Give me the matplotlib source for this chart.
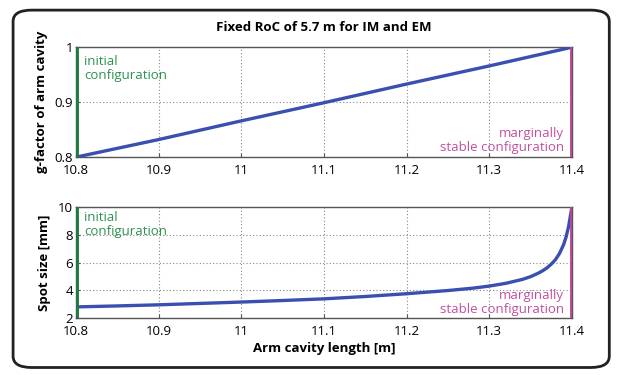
import matplotlib
matplotlib.use("Agg")
import matplotlib.pyplot as plt
from matplotlib.patches import FancyBboxPatch

plt.rcParams['font.family'] = ['Open Sans', 'DejaVu Sans']

# Data
length_g = [10.8, 10.9, 11.0, 11.1, 11.2, 11.3, 11.4]
g_factor = [0.8, 0.832, 0.866, 0.899, 0.933, 0.966, 1.0]

length_w = [10.8, 10.85, 10.9, 10.95, 11.0, 11.05, 11.1, 11.15, 11.2, 11.25,
            11.28, 11.3, 11.32, 11.34, 11.35, 11.36, 11.365, 11.37, 11.375,
            11.38, 11.385, 11.39, 11.393, 11.396, 11.398, 11.4]
spot_size = [2.8, 2.87, 2.95, 3.05, 3.15, 3.26, 3.38, 3.55, 3.75, 3.98,
             4.15, 4.3, 4.5, 4.78, 4.98, 5.25, 5.42, 5.62, 5.88,
             6.2, 6.65, 7.3, 7.85, 8.6, 9.3, 10.0]

xticks = [10.8, 10.9, 11.0, 11.1, 11.2, 11.3, 11.4]
xticklabels = ['10.8', '10.9', '11', '11.1', '11.2', '11.3', '11.4']
yticks_g = [0.8, 0.9, 1.0]
yticklabels_g = ['0.8', '0.9', '1']
yticks_w = [2, 4, 6, 8, 10]
yticklabels_w = ['2', '4', '6', '8', '10']

green = '#1f7a3e'
green_txt = '#2e9150'
magenta = '#c0449a'
magenta_txt = '#c0509f'
blue = '#3a4fb0'

fig = plt.figure(figsize=(6.23, 3.75), dpi=100)
fig.patch.set_facecolor('white')

frame = FancyBboxPatch((0.021, 0.020), 0.957, 0.953,
                       boxstyle="round,pad=0,rounding_size=0.03",
                       transform=fig.transFigure, fill=False,
                       edgecolor='#222222', linewidth=2.0)
fig.patches.append(frame)

ax1 = fig.add_axes([0.122, 0.581, 0.796, 0.293])
ax2 = fig.add_axes([0.122, 0.152, 0.796, 0.296])

for ax in (ax1, ax2):
    ax.set_xlim(10.8, 11.4)
    ax.set_xticks(xticks)
    ax.set_xticklabels(xticklabels, fontsize=9.5)
    ax.grid(True, linestyle=(0, (1, 2)), color='#888888', linewidth=0.8)
    ax.tick_params(direction='in', length=3, color='#555555', labelsize=9.5)
    ax.tick_params(axis='x', pad=5)
    ax.tick_params(axis='y', pad=2)
    for s in ax.spines.values():
        s.set_color('#555555')
        s.set_linewidth(1.0)
    ax.axvline(10.8, color=green, linewidth=3.5, zorder=5)
    ax.axvline(11.4, color=magenta, linewidth=3.5, zorder=5)

ax1.plot(length_g, g_factor, color=blue, linewidth=2.4, zorder=4)
ax1.set_ylim(0.8, 1.0)
ax1.set_yticks(yticks_g)
ax1.set_yticklabels(yticklabels_g)
ax1.set_ylabel('g-factor of arm cavity', fontsize=9.5, fontweight='bold', labelpad=5)
ax1.set_title('Fixed RoC of 5.7 m for IM and EM', fontsize=9.5, fontweight='bold', pad=12)
ax1.text(10.81, 0.985, 'initial\nconfiguration', color=green_txt, fontsize=9.5,
         va='top', ha='left', linespacing=1.1)
ax1.text(11.39, 0.805, 'marginally\nstable configuration', color=magenta_txt, fontsize=9.5,
         va='bottom', ha='right', linespacing=1.1, multialignment='right')

ax2.plot(length_w, spot_size, color=blue, linewidth=2.4, zorder=4)
ax2.set_ylim(2, 10)
ax2.set_yticks(yticks_w)
ax2.set_yticklabels(yticklabels_w)
ax2.set_ylabel('Spot size [mm]', fontsize=9.5, fontweight='bold', labelpad=5)
ax2.set_xlabel('Arm cavity length [m]', fontsize=9.5, fontweight='bold', labelpad=3)
ax2.text(10.81, 9.7, 'initial\nconfiguration', color=green_txt, fontsize=9.5,
         va='top', ha='left', linespacing=1.1)
ax2.text(11.39, 2.15, 'marginally\nstable configuration', color=magenta_txt, fontsize=9.5,
         va='bottom', ha='right', linespacing=1.1, multialignment='right')

fig.savefig('out.png', dpi=100)
